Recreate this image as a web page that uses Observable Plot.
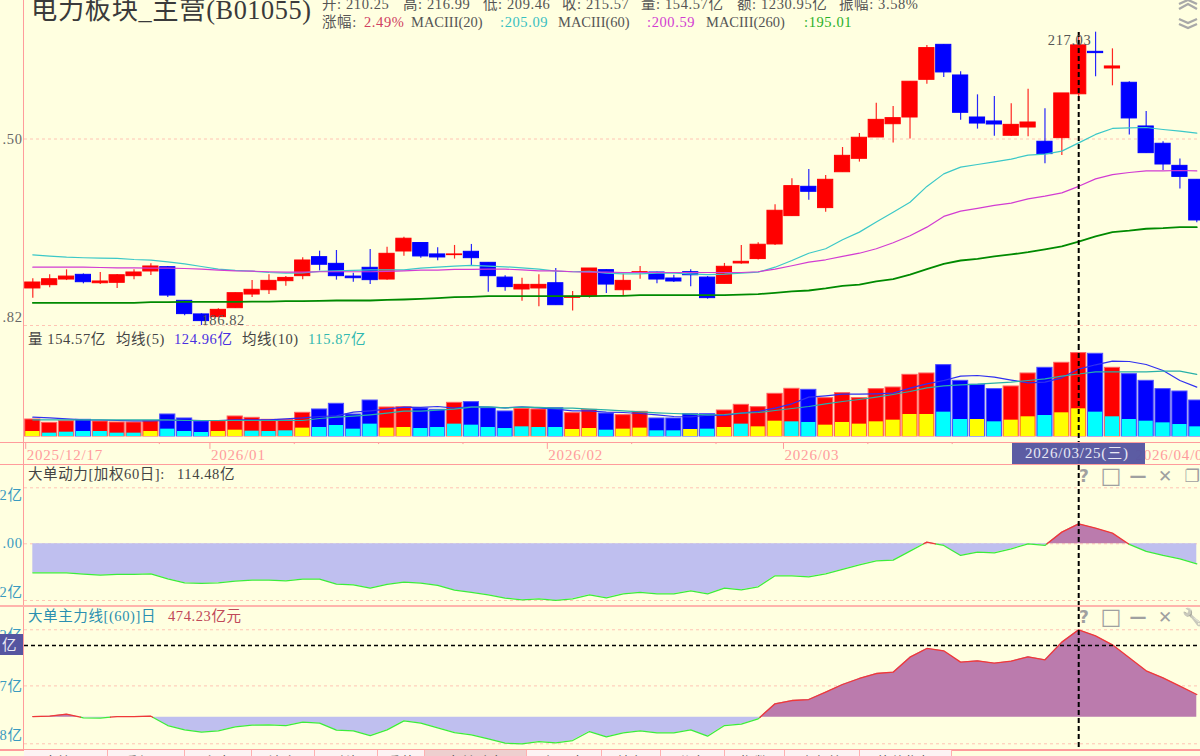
<!DOCTYPE html>
<html><head><meta charset="utf-8">
<script src="https://cdn.jsdelivr.net/npm/d3@7"></script>
<script src="https://cdn.jsdelivr.net/npm/@observablehq/plot@0.6"></script>
<style>
html,body{margin:0;padding:0;background:#ffffe0;overflow:hidden}
#stage{position:relative;width:1200px;height:756px;overflow:hidden;background:#ffffe0;font-family:"Liberation Serif","Noto Sans CJK SC",serif;font-size:14.5px;color:#444;letter-spacing:.6px}
#stage svg{position:absolute;left:0;overflow:visible;background:transparent}
.t{position:absolute;white-space:pre;line-height:16px;height:16px}
.b{position:absolute;background:#ff9c9c}
.tab{position:absolute;top:750px;height:6px;background:#fdf3f3;overflow:hidden;text-align:center;font-size:14px;line-height:26px;color:#555;border-right:1px solid #ffb0b0;box-sizing:border-box}
</style></head><body><div id="stage"></div>
<script>
// ---- price series (index 0..69, one per trading day) ----
const opens=[190.39,190.71,191.26,191.72,190.90,190.94,191.59,192.05,192.47,189.19,187.88,187.62,188.48,189.80,190.22,191.10,191.59,193.46,192.80,191.55,192.41,191.26,194.02,194.86,193.73,193.66,193.99,192.90,191.45,190.29,190.39,190.90,189.48,189.61,192.18,190.22,191.91,191.95,191.36,191.98,191.45,190.84,192.84,193.27,194.72,197.56,200.54,198.37,202.04,203.43,205.66,207.06,207.77,211.81,215.63,212.28,207.77,207.35,205.84,206.71,205.21,205.59,210.25,214.86,213.04,211.49,206.82,205.00,202.70,201.26];
const highs=[191.33,191.72,192.21,191.81,191.95,191.75,192.21,192.80,192.54,189.22,187.94,188.42,189.96,191.16,191.72,191.55,193.40,194.05,194.12,191.88,194.22,194.45,195.45,194.89,194.39,194.62,194.72,192.90,191.62,191.39,191.72,192.34,190.10,192.34,192.21,191.81,192.54,191.98,191.68,192.21,191.55,192.84,194.62,194.89,198.70,201.36,202.32,201.70,204.61,206.08,209.30,208.94,211.60,215.56,215.67,212.68,210.19,210.01,209.23,210.80,208.69,210.34,216.99,217.03,215.19,211.60,208.41,205.21,203.40,201.26];
const lows=[189.45,190.45,191.16,190.84,190.77,190.39,191.23,191.65,189.51,187.75,186.82,187.62,188.45,189.51,189.80,190.61,191.23,192.11,191.20,191.00,190.77,191.20,193.56,193.36,193.10,193.27,192.64,190.03,190.13,189.16,188.61,188.77,188.20,189.45,189.90,189.70,191.29,190.84,190.97,190.55,189.35,190.84,192.77,193.17,194.62,197.53,199.17,197.96,202.04,203.09,205.66,205.07,205.49,211.34,212.06,207.49,206.54,205.80,205.77,205.73,202.92,203.78,209.46,212.14,211.16,205.91,204.02,202.22,200.31,196.88];
const closes=[190.97,191.29,191.55,191.00,191.07,191.68,191.95,192.54,189.70,187.91,187.24,188.32,189.93,190.26,191.13,191.42,193.13,192.71,191.59,191.39,191.20,193.79,195.29,193.53,193.43,193.73,193.36,191.59,190.52,190.74,190.74,188.77,189.58,192.34,190.77,191.13,191.98,191.26,191.07,191.68,189.45,192.51,193.00,194.69,198.10,200.61,200.03,201.26,203.74,205.63,207.52,207.70,211.60,215.27,212.61,208.27,207.13,207.03,206.99,207.24,203.92,210.34,215.57,214.72,213.26,207.67,204.02,202.84,201.56,197.12];
const ma20=[193.69,193.56,193.46,193.40,193.36,193.33,193.23,193.17,193.00,192.80,192.54,192.28,192.15,192.08,191.95,191.88,191.91,192.05,192.11,192.15,192.21,192.21,192.21,192.38,192.47,192.57,192.64,192.57,192.51,192.41,192.28,192.08,192.02,192.05,191.88,191.81,191.81,191.88,191.88,191.81,191.75,191.78,191.88,191.98,192.47,193.13,193.85,194.29,195.19,195.95,196.96,197.96,198.97,200.58,201.87,202.57,202.84,203.12,203.40,203.81,203.92,204.23,205.09,205.98,206.61,206.68,206.71,206.50,206.33,206.12];
const ma60=[192.47,192.47,192.47,192.47,192.44,192.41,192.41,192.38,192.38,192.34,192.28,192.18,192.11,192.08,192.02,191.98,191.98,192.02,192.02,192.02,192.02,192.05,192.11,192.18,192.18,192.25,192.25,192.28,192.28,192.21,192.11,192.11,192.02,191.98,191.98,191.95,191.95,191.95,191.95,191.95,191.95,191.95,191.95,192.02,192.28,192.61,192.97,193.20,193.53,193.85,194.29,194.89,195.59,196.45,197.53,198.07,198.34,198.64,198.87,199.31,199.58,199.92,200.59,201.36,201.80,202.01,202.18,202.18,202.22,202.18];
const ma260=[189.00,189.00,189.00,189.00,189.00,189.00,189.00,189.06,189.06,189.09,189.09,189.09,189.09,189.12,189.12,189.16,189.16,189.19,189.22,189.22,189.22,189.28,189.32,189.38,189.45,189.55,189.58,189.64,189.64,189.64,189.64,189.64,189.64,189.64,189.67,189.67,189.74,189.74,189.74,189.74,189.74,189.74,189.80,189.84,189.96,190.10,190.19,190.39,190.65,190.77,191.07,191.29,191.75,192.28,192.80,193.13,193.30,193.53,193.73,193.95,194.22,194.52,195.01,195.52,195.95,196.09,196.29,196.35,196.45,196.45];
// ---- volume series (亿) ----
const volume=[31.5,25.3,28.4,30.9,27.8,26.0,26.0,28.4,40.8,33.4,27.8,28.4,37.1,34.6,30.9,30.9,43.9,50.1,60.6,40.8,66.7,53.8,54.4,51.9,49.4,62.4,63.7,52.5,46.4,51.3,50.1,52.5,43.3,49.4,42.6,39.6,45.7,33.4,33.4,41.4,41.4,48.2,58.7,54.4,79.1,88.4,86.5,71.1,80.3,71.1,87.8,90.8,114.3,116.8,132.3,103.2,95.8,87.8,92.7,116.8,127.3,136.6,154.57,153.3,127.3,115.6,103.2,87.8,83.4,66.7];
const inner=[9.3,6.2,8.0,9.3,9.3,6.2,6.2,9.3,13.6,9.3,7.4,9.3,11.7,9.9,9.3,10.5,15.5,16.7,20.4,13.6,22.9,15.5,16.7,14.8,16.7,22.9,21.0,16.7,14.8,17.9,16.7,16.7,13.0,14.8,11.7,13.6,15.5,10.5,10.5,13.0,13.6,16.7,22.9,17.9,28.4,27.2,26.0,21.0,26.0,22.9,27.2,30.3,40.8,40.8,45.1,31.5,31.5,27.2,30.3,36.5,38.9,43.9,51.3,45.1,36.5,31.5,28.4,25.3,22.2,17.9];
const outerUp="1,1,1,0,1,1,1,1,0,0,0,1,1,1,1,1,1,0,0,0,0,1,1,0,0,1,0,0,0,1,1,0,1,1,0,1,1,0,0,0,0,1,1,1,1,1,0,1,1,1,1,1,1,1,0,0,0,0,1,1,0,1,1,0,1,0,0,0,0,0".split(",").map(Number);
const innerYellow=[0,7,11,12,16,21,22,32,33,35,36,39,41,43,44,47,48,49,50,51,52,53,56,58,59,61,62];
const volMa5=[35.8,34.6,32.8,30.9,30.6,29.7,29.0,29.0,29.7,30.3,29.7,29.7,30.9,30.9,30.9,32.8,34.6,37.1,38.3,45.1,47.6,50.7,54.4,53.8,55.6,52.5,55.6,54.4,53.1,55.0,53.1,50.7,47.6,47.6,45.1,44.5,42.6,40.2,37.1,36.5,39.6,38.9,43.3,46.4,52.5,60.6,72.9,75.4,78.5,78.5,79.1,80.3,89.6,97.6,103.8,111.9,113.1,110.0,104.4,99.5,100.7,108.8,124.96,132.9,139.7,139.0,133.5,122.4,103.8,91.5];
const volMa10=[30.9,30.9,30.9,30.9,30.9,30.9,30.9,30.9,30.9,29.7,29.7,29.7,29.7,29.7,29.7,29.7,29.7,33.4,35.8,37.7,40.2,43.3,47.0,47.0,48.8,50.7,54.4,55.0,53.1,54.4,53.8,52.5,52.5,50.7,49.4,47.6,45.7,43.9,42.6,41.4,40.2,40.8,43.3,44.5,48.2,51.9,55.6,60.6,64.9,68.6,72.9,77.9,83.4,90.2,93.9,95.8,97.0,98.9,100.7,103.8,106.9,111.9,115.87,119.9,119.9,119.9,119.9,121.1,121.1,115.0];
// ---- indicator series (亿) ----
const dongli=[-166,-166,-166,-173.6,-179.4,-175.5,-175.5,-171.7,-200.3,-223.2,-227.1,-223.2,-213.7,-208,-208,-211.8,-202.2,-202.2,-230.9,-234.7,-253.8,-232.8,-219.4,-225.1,-238.5,-265.2,-278.6,-291.9,-311,-320.5,-314.8,-324.4,-314.8,-291.9,-309.1,-286.2,-278.6,-286.2,-286.2,-269,-286.2,-253.8,-263.3,-246.1,-183.2,-183.2,-188.9,-171.7,-146.9,-120.2,-97.3,-93.5,-42,9.5,-9.5,-66.8,-47.7,-51.5,-28.6,-1,-9.5,66.8,114.48,89.7,61.1,-3.8,-43.9,-66.8,-85.9,-114.5];
const zhuli=[3.6,5.4,16.3,-3.6,-5.4,3.6,3.6,5.4,-45.3,-68.8,-81.5,-74.2,-52.5,-43.4,-41.6,-45.3,-27.2,-32.6,-70.6,-74.2,-99.6,-68.8,-19.9,-32.6,-57.9,-83.3,-95.9,-117.7,-141.2,-144.8,-132.1,-139.4,-126.7,-77.8,-106.8,-85.1,-74.2,-85.1,-85.1,-68.8,-103.2,-45.3,-38,-9.1,72.4,90.5,95.9,135.8,177.4,210,237.1,244.4,325.8,372.9,360.2,298.7,305.9,293.2,304.1,327.6,311.3,407.3,474.23,441.6,392.8,322.2,251.6,213.6,168.3,123.1];
// ---- labels ----
const priceTicks=[205.5], priceTickText=".50";
const priceLow=186.82, priceLowText=".82", priceHigh=217.03, crossIndex=62, crossValue=389;
const dateLabels=["2025/12/17","2026/01","2026/02","2026/03","2026/04/0"];
const dateIndex=[-0.42,10.5,30.5,44.5,65.3];
const minorTicks=[7.5,15.5,20.5,25.5,35.5,40.5,49.5,54.5];
const majorTicks=[-0.42,10.5,30.5,44.5];
const dlTicks=[320.5,0,-324.5], dlText=["2亿",".00","2亿"], dlDy=[8,0,-8];
const zlTicks=[474.5,169.8,-144.3], zlText=["2亿","7亿","8亿"], zlDy=[6,0,-8];
const tabNames=["大比价","重轻通","主力","流向","融资","重估","大单动力","主买力","特色","分布","指数","内部比","估值指标"];
const tabEdges=[24,108,185,252,315,378,425,527,602,661,725,785,860,952];

const GRID="#ffc4b4",RED="#ff0000",BLUE="#0000ff";
const FONT='"Liberation Serif","Noto Sans CJK SC",serif';
const stage=document.getElementById("stage");
const rows=volume.map((v,i)=>({i,o:opens[i],h:highs[i],l:lows[i],c:closes[i],m20:ma20[i],m60:ma60[i],m260:ma260[i],v,inn:inner[i],up:outerUp[i],yel:innerYellow.includes(i),v5:volMa5[i],v10:volMa10[i]}));
const W=0.45;

function panel(top,height,yDomain,yPix,yType,marks,spacing="0.6px"){
  const s=Plot.plot({
    width:1200,height,margin:0,marginLeft:24,
    style:{background:"transparent",fontFamily:FONT,fontSize:"14.5px",overflow:"visible",letterSpacing:spacing},
    x:{domain:[-0.492,69.22],range:[24,1200],axis:null},
    y:{type:yType,domain:yDomain,range:yPix.map(p=>p-top),axis:null},
    marks
  });
  s.style.top=top+"px";
  stage.appendChild(s);
  return s;
}
const cross=(insetTop=0)=>Plot.ruleX([crossIndex],{stroke:"#000",strokeWidth:2,strokeDasharray:"5,3",insetTop});
const leftLabels=(vals,text,dy,fill)=>vals.map((v,k)=>Plot.text([{v,t:text[k]}],{x:()=>-0.55,y:"v",text:"t",dy:dy[k],textAnchor:"end",fill,fontSize:14.5,dx:-1}));
const rulesGrid=v=>Plot.ruleY(v,{stroke:GRID,strokeWidth:1,strokeDasharray:"3,3"});

// price panel
panel(0,345,[priceLow,priceTicks[0]],[325,138.5],"log",[
  rulesGrid([priceLow,priceTicks[0]]),
  Plot.ruleX(rows,{x:"i",y1:"l",y2:"h",stroke:d=>d.c>=d.o?RED:BLUE,strokeWidth:1.2,strokeOpacity:.85}),
  Plot.rect(rows,{x1:d=>d.i-W,x2:d=>d.i+W,y1:d=>d.o,y2:d=>d.c,fill:d=>d.c>=d.o?RED:BLUE,stroke:d=>d.c>=d.o?RED:BLUE,strokeWidth:1}),
  Plot.line(rows,{x:"i",y:"m20",stroke:"#3cc8c8",strokeWidth:1.2}),
  Plot.line(rows,{x:"i",y:"m60",stroke:"#d23cd2",strokeWidth:1.2}),
  Plot.line(rows,{x:"i",y:"m260",stroke:"#008a00",strokeWidth:1.8}),
  cross(32),
  Plot.text([priceHigh],{x:()=>crossIndex+1,y:d=>d,text:d=>d.toFixed(2),dx:-26,dy:8,fill:"#555",fontSize:14.5}),
  Plot.text([priceLow],{x:()=>10,y:d=>d,text:d=>d.toFixed(2),textAnchor:"start",dy:-5,fill:"#555",fontSize:14.5}),
  leftLabels(priceTicks,[priceTickText],[0],"#666"),
  leftLabels([priceLow],[priceLowText],[-8],"#666")
]);
// volume panel
panel(345,97,[0,volume[crossIndex]],[436,352.6],"linear",[
  Plot.rect(rows,{x1:d=>d.i-W,x2:d=>d.i+W,y1:()=>0,y2:"v",fill:d=>d.up?RED:BLUE,stroke:d=>d.up?"#ff6060":"#5050ff",strokeWidth:1}),
  Plot.rect(rows,{x1:d=>d.i-W+.03,x2:d=>d.i+W-.03,y1:()=>0,y2:"inn",fill:d=>d.yel?"#ffff00":"#00ffff"}),
  Plot.line(rows,{x:"i",y:"v5",stroke:"#3030f0",strokeWidth:1.2}),
  Plot.line(rows,{x:"i",y:"v10",stroke:"#28b0a8",strokeWidth:1.2}),
  cross()
]);
// date strip
panel(442,23,[0,1],[23+442,442],"linear",[
  Plot.ruleX(minorTicks,{y1:()=>1,y2:()=>.91,stroke:"#ff9c9c"}),
  Plot.ruleX(majorTicks,{y1:()=>1,y2:()=>.7,stroke:"#ff9c9c"}),
  Plot.text(dateLabels,{x:(d,k)=>dateIndex[k],y:()=>.45,text:d=>d,textAnchor:"start",fill:"#ff9c9c",fontSize:15,dx:1}),
  cross()
],"0.8px");
// zero-crossing aware points for the two-colour areas
function pts(vals){
  const out=[];
  vals.forEach((v,i)=>{
    if(i&&vals[i-1]*v<0) out.push({x:i-1+vals[i-1]/(vals[i-1]-v),v:0});
    out.push({x:i,v});
  });
  return out;
}
function indicator(top,height,vals,zeroPix,ref,refPix,ticks,text,dy,labelFill,extra){
  const p=pts(vals);
  panel(top,height,[0,ref],[zeroPix,refPix],"linear",[
    rulesGrid(ticks),
    Plot.areaY(p,{x:"x",y1:()=>0,y2:d=>Math.min(d.v,0),fill:"#bfbfef"}),
    Plot.areaY(p,{x:"x",y1:()=>0,y2:d=>Math.max(d.v,0),fill:"#bb7bad"}),
    Plot.line(p,{x:"x",y:d=>d.v<=0?d.v:NaN,stroke:"#3cec3c",strokeWidth:1.3}),
    Plot.line(p,{x:"x",y:d=>d.v>=0?d.v:NaN,stroke:"#f03838",strokeWidth:1.3}),
    ...extra,
    cross(),
    leftLabels(ticks,text,dy,labelFill)
  ]);
}
indicator(465,141,dongli,543.3,114.48,523.3,dlTicks,dlText,dlDy,"#3a9ac0",[]);
indicator(606,144,zhuli,716.7,474.23,629.3,zlTicks,zlText,zlDy,"#3a9ac0",[
  Plot.ruleY([crossValue],{stroke:"#000",strokeWidth:1.5,strokeDasharray:"4,3"})
]);

// ---- html text ----
function txt(x,cy,s,color,size,extra){
  const e=document.createElement("div");e.className="t";e.textContent=s;
  e.style.left=x+"px";e.style.top=(cy-8)+"px";
  if(color)e.style.color=color;
  if(size){e.style.fontSize=size+"px";}
  if(extra)Object.assign(e.style,extra);
  stage.appendChild(e);return e;
}
function box(l,t,w,h,c){const e=document.createElement("div");e.className="b";e.style.cssText+=`left:${l}px;top:${t}px;width:${w}px;height:${h}px;`+(c?`background:${c};`:"");stage.appendChild(e);return e;}
const nosp={letterSpacing:"0"};
txt(31,11,"电力板块_主营(B01055)","#3a3a3a",26.3);
[[322,"开: 210.25"],[403,"高: 216.99"],[483,"低: 209.46"],[562,"收: 215.57"],[641,"量: 154.57亿"],[737,"额: 1230.95亿"],[839,"振幅: 3.58%"]]
  .forEach(([x,s])=>txt(x,4,s,"#555"));
txt(322,22,"涨幅:","#555");
txt(364,22,"2.49%","#d04060");
txt(411,22,"MACIII(20)","#555",null,nosp);
txt(500,22,":205.09","#38c0c0");
txt(558,22,"MACIII(60)","#555",null,nosp);
txt(647,22,":200.59","#d23cd2");
txt(706,22,"MACIII(260)","#555",null,nosp);
txt(804,22,":195.01","#28b028");
txt(28,339,"量 154.57亿","#444");
txt(116,339,"均线(5)","#444");
txt(174,339,"124.96亿","#4a30e0");
txt(242,339,"均线(10)","#444");
txt(308,339,"115.87亿","#30b8b0");
txt(28,474,"大单动力[加权60日]:","#444");
txt(177,474,"114.48亿","#444");
txt(28,616,"大单主力线[(60)]日","#2a8fb0");
txt(168,616,"474.23亿元","#c04858");
// frame lines
box(23,0,1,750,"#ff9c9c");
box(0,442,1200,1);box(0,464,1200,1);
box(0,605,1200,2,"#ffb4ac");box(0,749,1200,1.5,"#ff9c9c");
// date cursor
box(1012,443,133,21,"rgba(85,85,160,.96)");
txt(1025,453,"2026/03/25(三)","#e8e8f4",15,{letterSpacing:".8px"});
// y cursor
box(0,633.5,23,21.5,"#5555a0");
txt(2,645,"亿","#e8e8f4");
// tabs
tabNames.forEach((n,k)=>{
  const e=document.createElement("div");e.className="tab";e.textContent=n;
  e.style.left=tabEdges[k]+"px";e.style.width=(tabEdges[k+1]-tabEdges[k])+"px";
  if(k===6)e.style.background="#eecfcf";
  stage.appendChild(e);
});
// window icons
const iconX=[1084,1111,1138,1165,1192];
[[476,["?","□","—","✕","❐"]],[617,["?","□","—","✕","🔧"]]].forEach(([y,g])=>g.forEach((c,k)=>{
  const e=txt(iconX[k],y,c,"#a0a0a0",k==1?22:17,{fontWeight:"bold",transform:"translateX(-50%)",fontFamily:'"DejaVu Sans",sans-serif',letterSpacing:"0"});
  if(c==="🔧")e.style.filter="grayscale(1) opacity(.6)";
}));
// scroll chevrons in the top right corner
const chev=document.createElement("div");
chev.style.cssText="position:absolute;left:1178px;top:0;width:20px;height:30px";
chev.innerHTML='<svg width="20" height="30" style="position:static"><g fill="none" stroke="#a8a8a8" stroke-width="2.4"><path d="M1 4 L10 0 L19 4"/><path d="M1 9 L10 4 L19 9"/><path d="M1 19 L10 23 L19 19"/><path d="M1 24 L10 28 L19 24"/></g></svg>';
stage.appendChild(chev);
</script></body></html>
